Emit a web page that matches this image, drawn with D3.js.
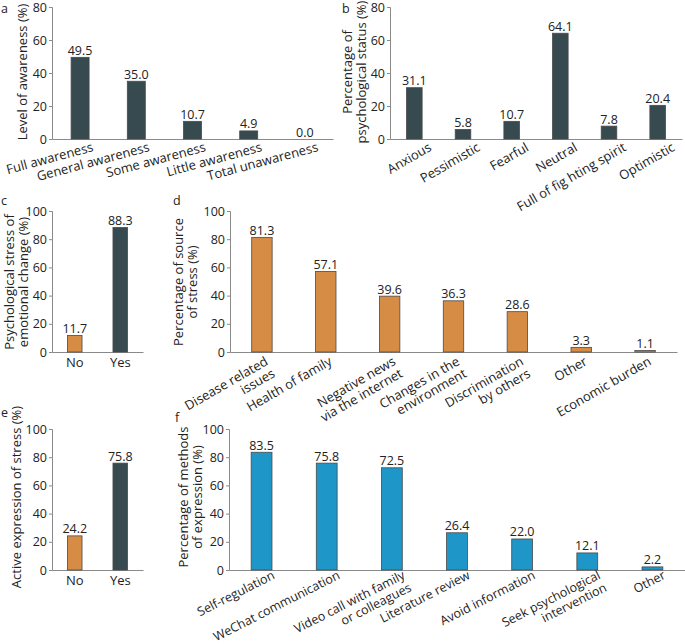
<!DOCTYPE html>
<html>
<head>
<meta charset="utf-8">
<script src="https://cdn.jsdelivr.net/npm/d3@7"></script>
<style>
  html, body { margin: 0; padding: 0; background: #fff; }
  svg { display: block; font-family: "Open Sans", "DejaVu Sans", sans-serif; }
</style>
</head>
<body>
<svg id="chart" width="685" height="644"></svg>
<script>
// ---------- DATA ----------
const awarenessCategories = ["Full awareness", "General awareness", "Some awareness", "Little awareness", "Total unawareness"];
const awarenessValues = [49.5, 35.0, 10.7, 4.9, 0.0];

const statusCategories = ["Anxious", "Pessimistic", "Fearful", "Neutral", "Full of fig hting spirit", "Optimistic"];
const statusValues = [31.1, 5.8, 10.7, 64.1, 7.8, 20.4];

const emotionCategories = ["No", "Yes"];
const emotionValues = [11.7, 88.3];

const sourceCategories = ["Disease related\nissues", "Health of family", "Negative news\nvia the internet", "Changes in the\nenvironment", "Discrimination\nby others", "Other", "Economic burden"];
const sourceValues = [81.3, 57.1, 39.6, 36.3, 28.6, 3.3, 1.1];

const expressionCategories = ["No", "Yes"];
const expressionValues = [24.2, 75.8];

const methodCategories = ["Self-regulation", "WeChat communication", "Video call with family\nor colleagues", "Literature review", "Avoid information", "Seek psychological\nintervention", "Other"];
const methodValues = [83.5, 75.8, 72.5, 26.4, 22.0, 12.1, 2.2];

const ticks80 = [0, 20, 40, 60, 80];
const ticks100 = [0, 20, 40, 60, 80, 100];

// ---------- STYLE ----------
const DARK = "#374a4f", ORANGE = "#d68c45", BLUE = "#1e96c8";
const AXIS = "#8a8a8a", TEXT = "#222";

const svg = d3.select("#chart");

function panel(opt) {
  const g = svg.append("g");
  const x = d3.scaleBand().domain(opt.categories.map((d, i) => i))
    .range([opt.x0, opt.x1]).paddingInner(0.68).paddingOuter(0.34);
  const y = d3.scaleLinear().domain([0, opt.ymax]).range([opt.yb, opt.yt]);

  // y axis
  const ya = g.append("g").attr("transform", `translate(${opt.x0},0)`)
    .call(d3.axisLeft(y).tickValues(opt.ticks).tickSize(3).tickSizeOuter(3).tickPadding(2));
  ya.select(".domain").attr("stroke", AXIS);
  ya.selectAll(".tick line").attr("stroke", AXIS);
  ya.selectAll(".tick text").attr("fill", TEXT).style("font-size", "12.5px")
    .style("font-family", '"Open Sans", sans-serif');

  // x axis line
  const xa = g.append("g").attr("transform", `translate(0,${opt.yb})`)
    .call(d3.axisBottom(x).tickSize(0).tickSizeOuter(0).tickFormat(""));
  xa.select(".domain").attr("stroke", AXIS);
  xa.selectAll(".tick").remove();

  // bars
  g.selectAll("rect.bar").data(opt.values).join("rect")
    .attr("class", "bar")
    .attr("x", (d, i) => x(i))
    .attr("width", x.bandwidth())
    .attr("y", d => y(d))
    .attr("height", d => y(0) - y(d))
    .attr("fill", (d, i) => opt.colors[i % opt.colors.length])
    .attr("stroke", "#4a4a4a").attr("stroke-width", 0.8);

  // value labels
  g.selectAll("text.val").data(opt.values).join("text")
    .attr("class", "val")
    .attr("x", (d, i) => x(i) + x.bandwidth() / 2)
    .attr("y", d => y(d) - 2.5)
    .attr("text-anchor", "middle")
    .attr("fill", TEXT).style("font-size", "12.5px")
    .text(d => d.toFixed(1));

  // category labels
  const lab = g.selectAll("g.lab").data(opt.categories).join("g")
    .attr("class", "lab")
    .attr("transform", (d, i) => `translate(${x(i) + x.bandwidth() / 2 + opt.ldx},${opt.yb + opt.ldy}) rotate(${opt.angle})`);
  lab.each(function (d) {
    const lines = d.split("\n");
    const t = d3.select(this).append("text")
      .attr("text-anchor", opt.angle === 0 ? "middle" : "end")
      .attr("fill", TEXT).style("font-size", opt.lfs || "13px");
    lines.forEach((ln, k) => {
      t.append("tspan").attr("x", 0).attr("y", k * 14).text(ln);
    });
  });

  // y title
  const yt = g.append("text")
    .attr("transform", `translate(${opt.tx},${opt.ty}) rotate(-90)`)
    .attr("text-anchor", "middle").attr("fill", TEXT).style("font-size", "13px");
  opt.title.forEach((ln, k) => {
    yt.append("tspan").attr("x", 0).attr("y", k * 14).text(ln);
  });

  // panel letter
  g.append("text").attr("x", opt.lx).attr("y", opt.ly)
    .attr("fill", TEXT).style("font-size", "12.5px").text(opt.letter);
}

panel({
  letter: "a", lx: 1, ly: 13,
  categories: awarenessCategories, values: awarenessValues, colors: [DARK],
  x0: 52, x1: 333, yt: 7, yb: 139, ymax: 80, ticks: ticks80,
  angle: -15, ldx: 14, ldy: 12,
  title: ["Level of awareness (%)"], tx: 27, ty: 72
});

panel({
  letter: "b", lx: 342, ly: 13,
  categories: statusCategories, values: statusValues, colors: [DARK],
  x0: 390, x1: 682, yt: 7, yb: 139, ymax: 80, ticks: ticks80,
  angle: -30, ldx: 18, ldy: 11,
  title: ["Percentage of", "psychological status (%)"], tx: 352, ty: 72
});

panel({
  letter: "c", lx: 1, ly: 205,
  categories: emotionCategories, values: emotionValues, colors: [ORANGE, DARK],
  x0: 52, x1: 143, yt: 211, yb: 352, ymax: 100, ticks: ticks100,
  angle: 0, ldx: 0, ldy: 15,
  title: ["Psychological stress of", "emotional change (%)"], tx: 14, ty: 282
});

panel({
  letter: "d", lx: 173, ly: 205,
  categories: sourceCategories, values: sourceValues, colors: [ORANGE],
  x0: 230, x1: 677, yt: 211, yb: 352, ymax: 100, ticks: ticks100,
  angle: -30, ldx: 7, ldy: 12,
  title: ["Percentage of source", "of stress (%)"], tx: 183, ty: 282
});

panel({
  letter: "e", lx: 1, ly: 417,
  categories: expressionCategories, values: expressionValues, colors: [ORANGE, DARK],
  x0: 52, x1: 143, yt: 429, yb: 570, ymax: 100, ticks: ticks100,
  angle: 0, ldx: 0, ldy: 15,
  title: ["Active expression of stress (%)"], tx: 21, ty: 497
});

panel({
  letter: "f", lx: 175, ly: 422,
  categories: methodCategories, values: methodValues, colors: [BLUE],
  x0: 229, x1: 685, yt: 429, yb: 570, ymax: 100, ticks: ticks100,
  angle: -27, ldx: 14, ldy: 8, lfs: "12.5px",
  title: ["Percentage of methods", "of expression (%)"], tx: 188, ty: 497
});
</script>
</body>
</html>
